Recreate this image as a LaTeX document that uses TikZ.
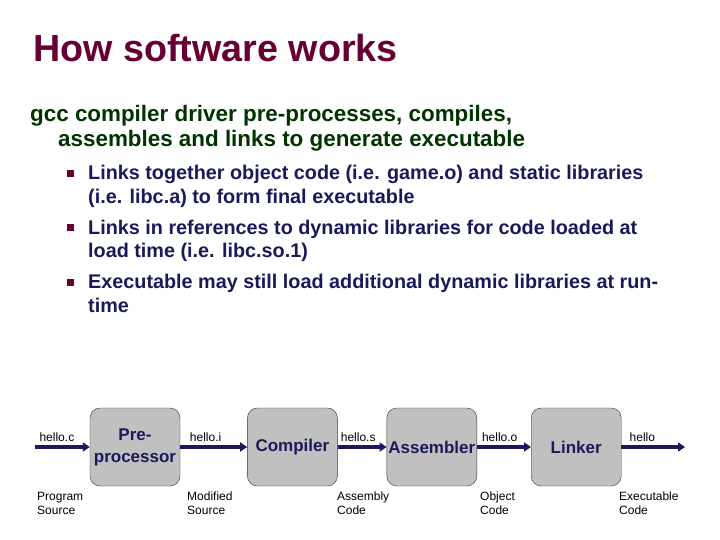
\documentclass[tikz,border=0pt]{standalone}
\usepackage{fontspec}
\setmainfont{Liberation Sans}
\usetikzlibrary{arrows.meta, positioning}
\definecolor{titlered}{RGB}{102,0,51}
\definecolor{subgreen}{RGB}{0,51,0}
\definecolor{navy}{RGB}{26,26,90}
\definecolor{boxgray}{RGB}{192,192,192}

\begin{document}
\begin{tikzpicture}[
  x=1pt, y=-1pt,
  stage/.style={draw=black!80, fill=boxgray, rounded corners=10pt, minimum width=90pt, minimum height=78pt, inner xsep=1pt, align=center, text=navy, font=\fontsize{17}{22}\selectfont\bfseries},
  flow/.style={-{Triangle[length=7pt, width=9pt]}, line width=3.5pt, draw=navy},
  fname/.style={font=\fontsize{12}{14}\selectfont, inner sep=0pt},
  kind/.style={font=\fontsize{12}{14}\selectfont, align=left, anchor=north west, inner sep=0pt},
  item/.style={font=\fontsize{19.8}{24}\selectfont\bfseries, text=navy, align=left, anchor=base west, inner sep=0pt},
  sqbullet/.style={fill=titlered, minimum size=7pt, inner sep=0pt}
]
  \useasboundingbox[fill=white] (0,0) rectangle (720,540);

  \node[anchor=base west, inner sep=0pt, text=titlered, font=\fontsize{37.7}{40}\selectfont\bfseries] (title) at (33,62) {How software works};
  \node[anchor=base west, inner sep=0pt, text=subgreen, align=left, font=\fontsize{22.4}{25}\selectfont\bfseries] (intro) at (30,147)
    {gcc compiler driver pre-processes, compiles,\\\hspace*{28pt}assembles and links to generate executable};

  % bullets (base anchor = last line)
  \node[sqbullet] (b1) at (70.5,174) {};
  \node[item] (it1) at (88,204) {Links together object code (i.e. game.o) and static libraries\\(i.e. libc.a) to form final executable};
  \node[sqbullet] (b2) at (70.5,228) {};
  \node[item] (it2) at (88,258) {Links in references to dynamic libraries for code loaded at\\load time (i.e. libc.so.1)};
  \node[sqbullet] (b3) at (70.5,282) {};
  \node[item] (it3) at (88,312) {Executable may still load additional dynamic libraries at run-\\time};

  % tool chain
  \node[stage] (pre) at (135,447) {Pre-\\processor};
  \node[stage, right=67pt of pre] (comp) {Compiler};
  \node[stage, right=49pt of comp] (asm) {Assembler};
  \node[stage, right=54pt of asm] (link) {Linker};
  \coordinate (src) at (35,447);
  \coordinate (sink) at (685,447);

  \draw[flow] (src) -- node[fname, above=4pt, pos=0.4] (fc) {hello.c} (pre);
  \draw[flow] (pre) -- node[fname, above=4pt, pos=0.38] (fi) {hello.i} (comp);
  \draw[flow] (comp) -- node[fname, above=4pt, pos=0.42] (fs) {hello.s} (asm);
  \draw[flow] (asm) -- node[fname, above=4pt, pos=0.42] (fo) {hello.o} (link);
  \draw[flow] (link) -- node[fname, above=4pt, pos=0.33] (fx) {hello} (sink);

  \node[kind] (k0) at (37,492) {Program\\Source};
  \node[kind] (k1) at (187,492) {Modified\\Source};
  \node[kind] (k2) at (337,492) {Assembly\\Code};
  \node[kind] (k3) at (480,492) {Object\\Code};
  \node[kind] (k4) at (619,492) {Executable\\Code};
\end{tikzpicture}
\end{document}
